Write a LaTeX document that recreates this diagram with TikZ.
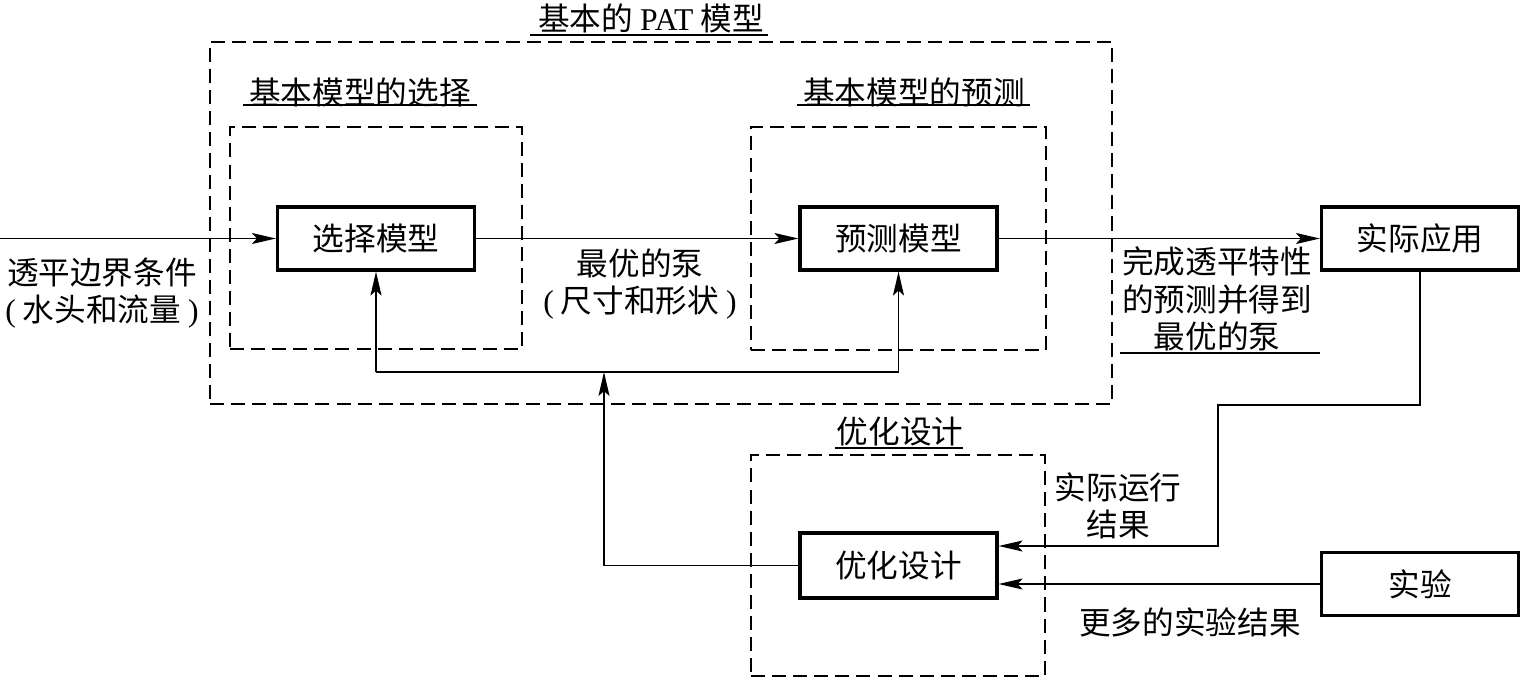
\documentclass[tikz,border=0pt]{standalone}
\usepackage{fontspec}
\setmainfont{Liberation Serif}
\newfontfamily\cjk{Noto Sans CJK SC}
\usepackage{tikz}
\usetikzlibrary{arrows.meta, positioning}
\tikzset{
  cjkfont/.style={font=\cjk\fontsize{9}{10.6}\selectfont},
  modelbox/.style={draw, line width=0.9pt, cjkfont, minimum width=1.97cm,
                   minimum height=0.63cm, inner sep=2pt},
  groupbox/.style={draw, dash pattern=on 4pt off 2pt, line width=0.5pt,
                   inner sep=0pt},
  heading/.style={cjkfont, inner sep=1pt},
  note/.style={cjkfont, align=center, inner sep=1pt},
  flowline/.style={line width=0.5pt},
  flowarrow/.style={flowline, -{Stealth[length=2.4mm, width=1.1mm, inset=0.5mm]}},
  underline/.style={line width=0.5pt}
}

\begin{document}
\begin{tikzpicture}
\useasboundingbox (0,0) rectangle (15.2,-6.78);

% Dashed groups
\node[groupbox, minimum width=9.02cm, minimum height=3.62cm] (pat)    at (6.61,-2.23) {};
\node[groupbox, minimum width=2.92cm, minimum height=2.22cm] (selgrp) at (3.76,-2.38) {};
\node[groupbox, minimum width=2.95cm, minimum height=2.23cm] (prdgrp) at (8.985,-2.385) {};
\node[groupbox, minimum width=2.94cm, minimum height=2.21cm] (optgrp) at (8.98,-5.655) {};

% Headings
\node[heading] (pattitle) at (6.51,-0.18) {基本的 {\rmfamily PAT} 模型};
\node[heading] (seltitle) at (3.60,-0.92) {基本模型的选择};
\node[heading] (prdtitle) at (9.14,-0.92) {基本模型的预测};
\node[heading] (opttitle) at (9.00,-4.32) {优化设计};
\draw[underline] (5.30,-0.35) -- (7.68,-0.35);
\draw[underline] (2.43,-1.05) -- (4.77,-1.05);
\draw[underline] (7.97,-1.05) -- (10.30,-1.05);
\draw[underline] (8.35,-4.48) -- (9.63,-4.48);

% Models
\node[modelbox] (sel) at (3.76,-2.385)  {选择模型};
\node[modelbox] (prd) at (8.985,-2.385) {预测模型};
\node[modelbox] (app) at (14.20,-2.385) {实际应用};
\node[modelbox, minimum height=0.65cm] (opt) at (8.985,-5.655) {优化设计};
\node[modelbox] (exp) at (14.20,-5.84)  {实验};

% Helper points
\coordinate (src) at (0,-2.385);
\coordinate (fb)  at (6.04,-3.72);
\coordinate (ret) at (12.18,-4.05);

% Arrows
\draw[flowarrow] (src) -- (sel);
\draw[flowarrow] (sel) -- (prd);
\draw[flowarrow] (prd) -- (app);
\draw[flowline] (sel.south |- fb) -- (prd.south |- fb);
\draw[flowarrow] (sel.south |- fb) -- (sel.south);
\draw[flowarrow] (prd.south |- fb) -- (prd.south);
\draw[flowarrow] (opt.west) -| (fb);
\draw[flowarrow] (app.south) |- (ret) |- ([yshift=0.195cm]opt.east);
\draw[flowarrow] (exp.west) -- (exp.west -| opt.east);

% Labels
\node[note] (bound) at (1.02,-2.93) {透平边界条件\\{\rmfamily (}\ 水头和流量\ {\rmfamily )}};
\node[note] (best)  at (6.40,-2.84) {最优的泵\\{\rmfamily (}\ 尺寸和形状\ {\rmfamily )}};
\node[note] (done)  at (12.17,-2.99) {完成透平特性\\的预测并得到\\最优的泵};
\draw[underline] (11.20,-3.53) -- (13.20,-3.53);
\node[note] (run)   at (11.18,-5.06) {实际运行\\结果};
\node[note] (more)  at (11.90,-6.22) {更多的实验结果};

\end{tikzpicture}
\end{document}
